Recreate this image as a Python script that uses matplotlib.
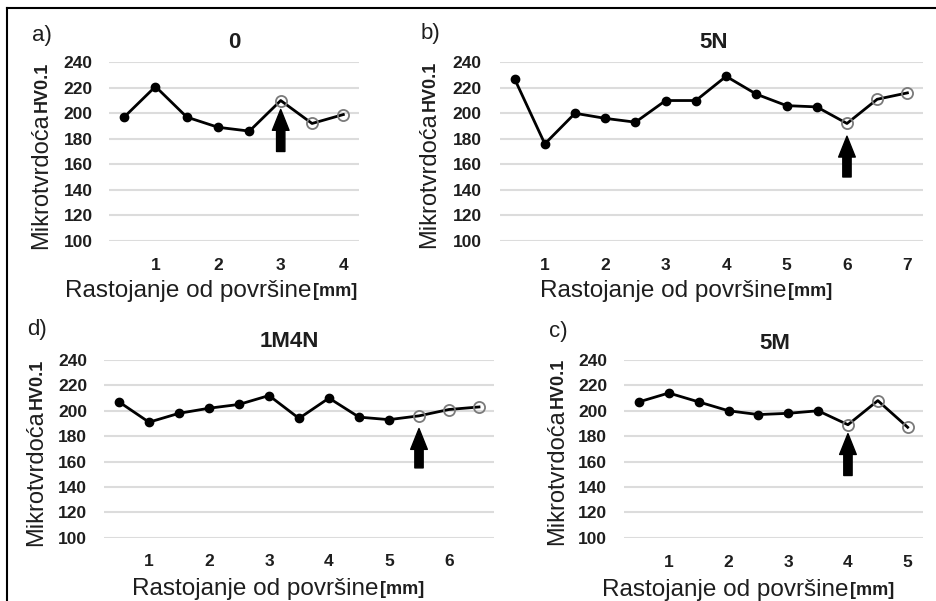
import matplotlib
matplotlib.use('Agg')
import matplotlib.pyplot as plt
from matplotlib.lines import Line2D

plt.rcParams['font.family'] = ['Liberation Sans', 'DejaVu Sans']

# ---------------- data ----------------
dist_a = [0.5, 1, 1.5, 2, 2.5, 3, 3.5, 4]
hv_a = [197, 221, 197, 189, 186, 210, 192, 199]

dist_b = [0.5, 1, 1.5, 2, 2.5, 3, 3.5, 4, 4.5, 5, 5.5, 6, 6.5, 7]
hv_b = [227, 176, 200, 196, 193, 210, 210, 229, 215, 206, 205, 192, 211, 216]

dist_d = [0.5, 1, 1.5, 2, 2.5, 3, 3.5, 4, 4.5, 5, 5.5, 6, 6.5]
hv_d = [207, 191, 198, 202, 205, 212, 194, 210, 195, 193, 196, 201, 203]

dist_c = [0.5, 1, 1.5, 2, 2.5, 3, 3.5, 4, 4.5, 5]
hv_c = [207, 214, 207, 200, 197, 198, 200, 189, 208, 187]

y_ticks = [100, 120, 140, 160, 180, 200, 220, 240]
titles = ['0', '5N', '1M4N', '5M']
panel_labels = ['a)', 'b)', 'd)', 'c)']
arrow_x = [3, 6, 5.5, 4]
arrow_from = [170, 150, 155, 149]
arrow_to = [203, 182, 186, 182]
n_open = 3  # last points drawn with open markers

ylabel_main = 'Mikrotvrdoća'
ylabel_sub = 'HV0.1'
xlabel_main = 'Rastojanje od površine'
xlabel_sub = '[mm]'

# ---------------- layout ----------------
W, H = 936, 601
fig = plt.figure(figsize=(W / 100, H / 100), dpi=100)
TXT = '#1e1e1e'


def fx(px):
    return px / W


def fy(py):
    return 1 - py / H


layout = [
    dict(box=(108.5, 359, 62.3, 240.7), xmax=4.25, ypad=11.4, xpad=12.5, title=(234, 42),
         lab=(32, 35), ylab=(47, 249), xlab=(65, 297)),
    dict(box=(499.5, 922.5, 62.3, 240.7), xmax=7.25, ypad=12.8, xpad=12.5, title=(714, 42),
         lab=(421, 34), ylab=(435, 248), xlab=(540, 297)),
    dict(box=(104, 494, 360, 537.7), xmax=6.75, ypad=12.0, xpad=11.5, title=(289, 341),
         lab=(27, 329), ylab=(42, 546), xlab=(132, 595)),
    dict(box=(624, 922.6, 360, 537.7), xmax=5.25, ypad=12.0, xpad=12.5, title=(775, 343),
         lab=(549, 332), ylab=(563, 545), xlab=(602, 596)),
]

series = [(dist_a, hv_a), (dist_b, hv_b), (dist_d, hv_d), (dist_c, hv_c)]

for i, ((xs, ys), L) in enumerate(zip(series, layout)):
    l, r, t, b = L['box']
    ax = fig.add_axes([fx(l), fy(b), (r - l) / W, (b - t) / H])
    ax.set_xlim(0.25, L['xmax'])
    ax.set_ylim(100, 240)
    for s in ax.spines.values():
        s.set_visible(False)
    ax.set_yticks(y_ticks)
    ax.set_xticks(range(1, int(max(xs)) + 1))
    ax.tick_params(axis='both', length=0, labelsize=12.5, labelcolor=TXT)
    ax.tick_params(axis='y', pad=L['ypad'])
    ax.tick_params(axis='x', pad=L['xpad'])
    for lbl in ax.get_xticklabels() + ax.get_yticklabels():
        lbl.set_fontweight('bold')
    ax.yaxis.grid(True, color='#dcdcdc', lw=1.5)
    ax.set_axisbelow(True)

    ax.plot(xs, ys, color='black', lw=2, zorder=3, clip_on=False)
    k = len(xs) - n_open
    ax.plot(xs[:k], ys[:k], 'o', color='black', ms=6, zorder=4, clip_on=False)
    ax.plot(xs[k:], ys[k:], 'o', mfc='none', mec='#7a7a7a', mew=1.3, ms=8,
            zorder=4, clip_on=False)

    ax.annotate('', xy=(arrow_x[i], arrow_to[i]), xytext=(arrow_x[i], arrow_from[i]),
                xycoords='data', textcoords='data',
                arrowprops=dict(arrowstyle='simple,head_length=15,head_width=12,tail_width=6',
                                mutation_scale=1, color='black', shrinkA=0, shrinkB=0),
                annotation_clip=False, zorder=5)

    # title
    fig.text(fx(L['title'][0]), fy(L['title'][1]), titles[i], ha='center', va='center',
             fontsize=16, fontweight='bold', color=TXT)
    # panel label
    fig.text(fx(L['lab'][0]), fy(L['lab'][1]), panel_labels[i], ha='left', va='center',
             fontsize=16, color=TXT)
    # y label (main + bold part on the same baseline)
    t1 = fig.text(fx(L['ylab'][0]), fy(L['ylab'][1]), ylabel_main, rotation=90,
                  rotation_mode='anchor', ha='left', va='baseline', fontsize=17,
                  color=TXT)
    fig.add_artist(plt.Annotation(ylabel_sub, xy=(1, 1), xycoords=t1,
                                  xytext=(-3.6, 1), textcoords='offset points',
                                  rotation=90, rotation_mode='anchor',
                                  ha='left', va='baseline', fontsize=13,
                                  fontweight='bold', color=TXT))
    # x label
    t2 = fig.text(fx(L['xlab'][0]), fy(L['xlab'][1]), xlabel_main, ha='left',
                  va='baseline', fontsize=17.5, color=TXT)
    fig.add_artist(plt.Annotation(xlabel_sub, xy=(1, 0), xycoords=t2,
                                  xytext=(1, 4.5), textcoords='offset points',
                                  ha='left', va='baseline', fontsize=13,
                                  fontweight='bold', color=TXT))

# frame lines (top and left)
fig.add_artist(Line2D([fx(7), fx(936)], [fy(7.5), fy(7.5)], color='black', lw=1.5))
fig.add_artist(Line2D([fx(7), fx(7)], [fy(7.5), fy(601)], color='black', lw=1.5))

fig.savefig('out.png', dpi=100, facecolor='white')
